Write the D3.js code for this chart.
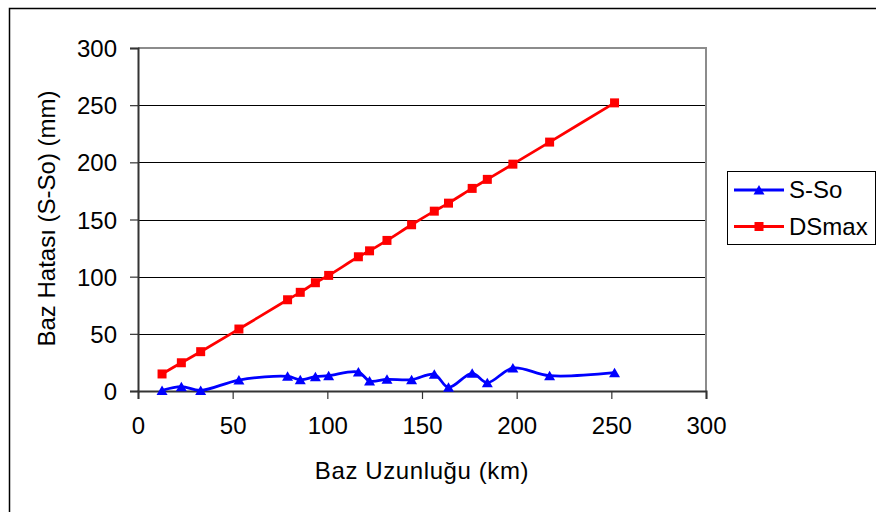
<!DOCTYPE html>
<html>
<head>
<meta charset="utf-8">
<script src="https://cdn.jsdelivr.net/npm/d3@7"></script>
<style>
  body { margin: 0; background: #fff; }
  svg text { font-family: "Liberation Sans", Arial, sans-serif; fill: #000; }
</style>
</head>
<body>
<div id="chart"></div>
<script>
// baseline lengths (km)
const baseLength = [12.7, 22.9, 33.1, 53.3, 79.0, 85.7, 93.7, 100.7, 116.4, 122.3, 131.5, 144.5, 156.5, 164.0, 176.5, 184.5, 198.0, 217.4, 251.7];
// S-So (mm)
const sSo = [0.5, 3.8, 0.5, 9.6, 12.8, 9.9, 12.5, 13.4, 16.6, 8.7, 10.2, 9.9, 14.6, 3.2, 15.5, 7.3, 20.1, 13.4, 16.0];
// DSmax (mm)
const dsMax = [14.9, 24.7, 34.4, 54.2, 79.8, 86.3, 94.7, 101.1, 117.4, 122.6, 131.7, 145.4, 157.3, 164.3, 177.2, 185.1, 198.4, 217.7, 252.0];

const seriesNames = ["S-So", "DSmax"];
const seriesColors = ["#0000ff", "#ff0000"];
const xTicks = [0, 50, 100, 150, 200, 250, 300];
const yTicks = [0, 50, 100, 150, 200, 250, 300];

const width = 876, height = 512;
const plot = { left: 138, right: 706, top: 48, bottom: 391 };
const fontSize = 24;

const svg = d3.select("#chart").append("svg")
    .attr("width", width)
    .attr("height", height);

// outer chart frame (cut off at right/bottom like the source)
svg.append("rect")
    .attr("x", 9.5).attr("y", 8.5)
    .attr("width", 880).attr("height", 520)
    .attr("fill", "#fff")
    .attr("stroke", "#000")
    .attr("stroke-width", 1.5);

const x = d3.scaleLinear().domain([0, 300]).range([plot.left, plot.right]);
const y = d3.scaleLinear().domain([0, 300]).range([plot.bottom, plot.top]);

// gridlines
svg.append("g")
    .selectAll("line")
    .data(yTicks.filter(d => d > 0 && d < 300))
    .join("line")
    .attr("x1", plot.left).attr("x2", plot.right)
    .attr("y1", d => Math.round(y(d)) + 0.5)
    .attr("y2", d => Math.round(y(d)) + 0.5)
    .attr("stroke", "#000")
    .attr("stroke-width", 1);

// plot border top / right
svg.append("path")
    .attr("d", `M${plot.left},${plot.top} H${plot.right} V${plot.bottom}`)
    .attr("fill", "none")
    .attr("stroke", "#8c8c8c")
    .attr("stroke-width", 2);

// axes
const yAxis = d3.axisLeft(y).tickValues(yTicks).tickSize(8).tickPadding(13);
const xAxis = d3.axisBottom(x).tickValues(xTicks).tickSize(8).tickPadding(19);

const gy = svg.append("g").attr("transform", `translate(${plot.left},0)`).call(yAxis);
const gx = svg.append("g").attr("transform", `translate(0,${plot.bottom})`).call(xAxis);

[gx, gy].forEach(g => {
    g.select(".domain").attr("stroke", "#333").attr("stroke-width", 2);
    g.selectAll(".tick line").attr("stroke", "#333").attr("stroke-width", 1.2);
    g.selectAll(".tick text")
        .attr("font-size", fontSize)
        .attr("font-family", "Liberation Sans, Arial, sans-serif")
        .attr("fill", "#000");
});
gy.selectAll(".tick text").attr("dy", "0.36em");
gx.selectAll(".tick text").attr("dy", "0.68em");

// axis titles
svg.append("text")
    .attr("x", (plot.left + plot.right) / 2)
    .attr("y", 479)
    .attr("text-anchor", "middle")
    .attr("font-size", fontSize)
    .attr("letter-spacing", "0.6px")
    .text("Baz Uzunluğu (km)");

svg.append("text")
    .attr("transform", `translate(55,${(plot.top + plot.bottom) / 2 - 1}) rotate(-90)`)
    .attr("text-anchor", "middle")
    .attr("font-size", fontSize)
    .text("Baz Hatası (S-So) (mm)");

// series
const series = [
    { name: seriesNames[0], color: seriesColors[0], values: sSo, marker: "triangle" },
    { name: seriesNames[1], color: seriesColors[1], values: dsMax, marker: "square" }
];

const markerPath = {
    triangle: "M0,-5L5.5,4.5L-5.5,4.5Z",
    square: "M-4.5,-4.5H4.5V4.5H-4.5Z"
};

const line = d3.line()
    .x(d => x(d[0]))
    .y(d => y(d[1]))
    .curve(d3.curveCatmullRom.alpha(0.5));

series.forEach(s => {
    const pts = baseLength.map((b, i) => [b, s.values[i]]);
    svg.append("path")
        .datum(pts)
        .attr("d", line)
        .attr("fill", "none")
        .attr("stroke", s.color)
        .attr("stroke-width", 2.8);

    svg.append("g")
        .selectAll("path")
        .data(pts)
        .join("path")
        .attr("transform", d => `translate(${x(d[0])},${y(d[1])})`)
        .attr("d", markerPath[s.marker])
        .attr("fill", s.color);
});

// legend
const legend = svg.append("g");
legend.append("rect")
    .attr("x", 727.5).attr("y", 171.5)
    .attr("width", 148).attr("height", 73)
    .attr("fill", "#fff")
    .attr("stroke", "#000")
    .attr("stroke-width", 1);

series.forEach((s, i) => {
    const ly = 190 + i * 36.5;
    legend.append("line")
        .attr("x1", 734).attr("x2", 784)
        .attr("y1", ly).attr("y2", ly)
        .attr("stroke", s.color)
        .attr("stroke-width", 2.8);
    legend.append("path")
        .attr("transform", `translate(759,${ly})`)
        .attr("d", markerPath[s.marker])
        .attr("fill", s.color);
    legend.append("text")
        .attr("x", 789)
        .attr("y", ly + 8)
        .attr("font-size", fontSize)
        .text(s.name);
});
</script>
</body>
</html>
